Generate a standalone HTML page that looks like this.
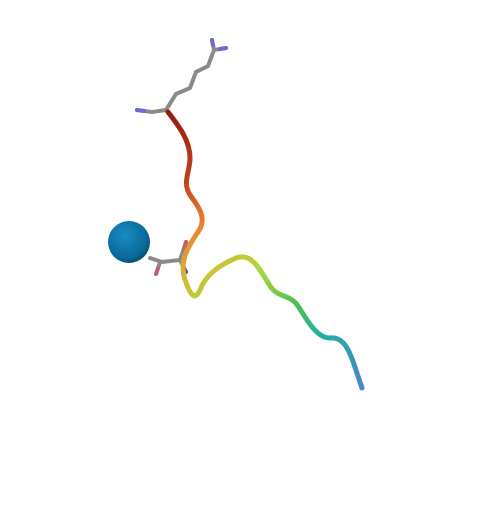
<!DOCTYPE html>
<html><head><meta charset="utf-8"><style>html,body{margin:0;padding:0;background:#fff}</style></head>
<body>
<svg width="500" height="500" viewBox="0 0 500 500">
<defs>
<radialGradient id="sph" cx="0.4" cy="0.35" r="0.65">
<stop offset="0" stop-color="#1a8cc0"/><stop offset="0.8" stop-color="#0a6a9c"/><stop offset="1" stop-color="#08527a"/></radialGradient>
<linearGradient id="rib" gradientUnits="userSpaceOnUse" x1="170" y1="110" x2="360" y2="390">
<stop offset="0" stop-color="#8e1a12"/><stop offset="0.2" stop-color="#c0401a"/><stop offset="0.33" stop-color="#ee8030"/><stop offset="0.45" stop-color="#d0c030"/><stop offset="0.55" stop-color="#a8d840"/><stop offset="0.68" stop-color="#50c050"/><stop offset="0.8" stop-color="#20b0a0"/><stop offset="1" stop-color="#4a86c8"/></linearGradient>
</defs>
<g stroke="#8a8a8a" stroke-width="4" stroke-linecap="round" fill="none">
<polyline points="166,110 176,94 190,88 196,72 208,66 214,50 226,48"/>
<line x1="212" y1="40" x2="214" y2="50"/>
<polyline points="166,110 152,112 137,110"/>
<polyline points="150,258 162,262 180,260 186,242"/>
<polyline points="160,262 156,274"/>
<line x1="180" y1="260" x2="186" y2="272"/>
</g>
<g stroke-width="4" stroke-linecap="round">
<line x1="137" y1="110" x2="144" y2="111" stroke="#6a6ad0"/>
<line x1="226" y1="48" x2="220" y2="49" stroke="#6a6ad0"/>
<line x1="212" y1="40" x2="213" y2="45" stroke="#6a6ad0"/>
<line x1="186" y1="242" x2="185" y2="248" stroke="#c06070"/>
<line x1="156" y1="274" x2="158" y2="268" stroke="#c06070"/>
<line x1="186" y1="272" x2="183" y2="266" stroke="#5050c0"/>
</g>
<path d="M168,112 C178,125 190,140 190,158 C190,172 182,182 190,195 C198,206 208,218 198,232 C190,244 180,258 184,276 C188,290 194,304 200,290 C206,274 220,265 236,258 C252,252 260,270 270,286 C278,298 290,294 298,306 C306,318 316,338 330,338 C348,336 352,360 362,388" stroke="url(#rib)" stroke-width="5" fill="none" stroke-linecap="round"/>
<circle cx="129" cy="242" r="21" fill="url(#sph)"/>
</svg>
</body></html>
